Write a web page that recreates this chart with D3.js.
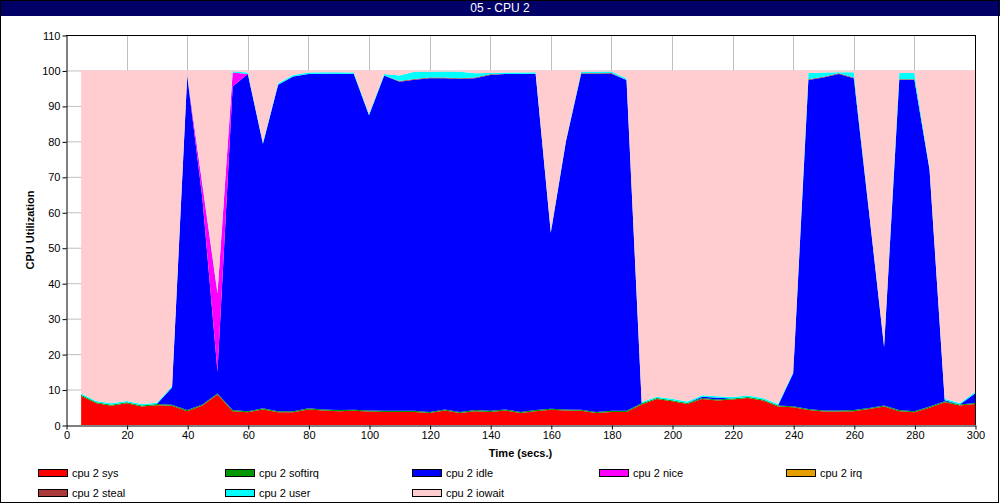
<!DOCTYPE html>
<html><head><meta charset="utf-8">
<script src="https://cdn.jsdelivr.net/npm/d3@7"></script>
<style>
html,body{margin:0;padding:0;background:#fff;}
svg{display:block;font-family:"Liberation Sans",Arial,sans-serif;}
</style></head>
<body>
<svg id="chart" width="1000" height="504"></svg>
<script>
const times   = [5,10,15,20,25,30,35,40,45,50,55,60,65,70,75,80,85,90,95,100,105,110,115,120,125,130,135,140,145,150,155,160,165,170,175,180,185,190,195,200,205,210,215,220,225,230,235,240,245,250,255,260,265,270,275,280,285,290,295,300];
const sys     = [8.2,6.1,5.4,6.1,5.2,5.6,5.4,3.9,5.5,8.6,3.9,3.6,4.4,3.6,3.6,4.4,4.1,3.9,4.0,3.8,3.7,3.7,3.7,3.4,4.1,3.4,3.9,3.7,4.1,3.4,3.9,4.3,4.1,4.0,3.4,3.7,3.7,5.8,7.3,6.7,5.9,7.3,6.9,7.2,7.6,6.9,5.2,5.0,4.2,3.8,3.8,3.9,4.5,5.2,3.9,3.6,4.9,6.4,5.5,5.9];
const softirq = [0.3,0.3,0.3,0.3,0.3,0.3,0.3,0.3,0.3,0.3,0.3,0.3,0.3,0.3,0.3,0.3,0.3,0.3,0.3,0.3,0.3,0.3,0.3,0.3,0.3,0.3,0.3,0.3,0.3,0.3,0.3,0.3,0.3,0.3,0.3,0.3,0.3,0.3,0.3,0.3,0.3,0.3,0.3,0.3,0.3,0.3,0.3,0.3,0.3,0.3,0.3,0.3,0.3,0.3,0.3,0.3,0.3,0.3,0.3,0.3];
const idle    = [0,0,0,0,0,0,4.9,94.3,58.2,6.1,91.3,95.1,74.6,92.1,94.4,94.3,94.7,94.9,94.7,83.3,94.6,92.8,93.4,94.1,93.4,93.9,93.6,94.7,94.6,95.3,94.9,49.6,75.6,94.7,95.3,95.1,93.3,0,0,0,0,0.4,0.5,0,0,0,0,9.3,92.8,93.9,94.9,93.6,55.5,16.5,93.1,93.4,66.8,0.3,0,2.7];
const nice    = [0,0,0,0,0,0,0,0,3.8,22.1,3.9,0,0,0,0,0,0,0,0,0,0,0,0,0,0,0,0,0,0,0,0,0,0,0,0,0,0,0,0,0,0,0,0,0,0,0,0,0,0,0,0,0,0,0,0,0,0,0,0,0];
const irq     = [0,0,0,0,0,0,0,0,0,0,0,0,0,0,0,0,0,0,0,0,0,0,0,0,0,0,0,0,0,0,0,0,0,0,0,0,0,0,0,0,0,0,0,0,0,0,0,0,0,0,0,0,0,0,0,0,0,0,0,0];
const steal   = [0,0,0,0,0,0,0,0,0,0,0,0,0,0,0,0,0,0,0,0,0,0.2,0.2,0.2,0.2,0.2,0.2,0.2,0,0,0,0,0,0.2,0.2,0.2,0,0,0,0,0,0,0,0,0,0,0,0,0.2,0.2,0.2,0.2,0,0,0.2,0.2,0,0,0,0];
const user    = [0.4,0.4,0.4,0.4,0.4,0.4,0.4,0.4,0.4,0.4,0.4,0.4,0.4,0.4,0.4,0.4,0.4,0.4,0.4,0.4,0.4,1.6,2.0,1.6,1.7,1.8,1.2,0.4,0.4,0.4,0.4,0.4,0.4,0.4,0.4,0.4,0.4,0.4,0.4,0.4,0.4,0.4,0.4,0.4,0.4,0.4,0.4,0.4,1.8,1.2,0.3,1.5,0.4,0.4,1.8,1.8,0.4,0.4,0.4,0.4];
const iowait  = [91.1,93.2,93.9,93.2,94.1,93.7,89.0,1.1,31.8,62.5,0.2,0.6,20.3,3.6,1.3,0.6,0.5,0.5,0.6,12.2,1.0,1.4,0.4,0.4,0.3,0.4,0.8,0.7,0.6,0.6,0.5,45.4,19.6,0.4,0.4,0.3,2.3,93.5,92.0,92.6,93.4,91.6,91.9,92.1,91.7,92.4,94.1,85.0,0.7,0.6,0.3,0.5,39.3,77.6,0.7,0.7,27.6,92.6,93.8,90.7];

const seriesNames = ["cpu 2 sys","cpu 2 softirq","cpu 2 idle","cpu 2 nice","cpu 2 irq","cpu 2 steal","cpu 2 user","cpu 2 iowait"];
const seriesColors = ["#ff0000","#009900","#0000ff","#ff00ff","#e69f00","#aa3a3a","#00ffff","#ffccd0"];
const xTicks = [0,20,40,60,80,100,120,140,160,180,200,220,240,260,280,300];
const yTicks = [0,10,20,30,40,50,60,70,80,90,100,110];
const titleText = "05 - CPU 2";
const xTitle = "Time (secs.)";
const yTitle = "CPU Utilization";

const seriesData = [sys, softirq, idle, nice, irq, steal, user, iowait];
const keys = seriesNames;
const rows = times.map((t, i) => {
  const r = {t};
  keys.forEach((k, j) => r[k] = seriesData[j][i]);
  return r;
});

const svg = d3.select("#chart");
const W = 1000, H = 504;
const L = 66, R = 975, T = 35, B = 425;

const x = d3.scaleLinear().domain([0, 300]).range([L, R]);
const y = d3.scaleLinear().domain([0, 110]).range([B, T]);

svg.append("rect").attr("x",0).attr("y",0).attr("width",W).attr("height",H).attr("fill","#fff");

// title bar
svg.append("rect").attr("x",0).attr("y",0).attr("width",W).attr("height",16).attr("fill","#000066");
svg.append("text").attr("x",W/2).attr("y",12).attr("text-anchor","middle")
  .attr("fill","#fff").style("font-size","12px").text(titleText);

// grid
const grid = svg.append("g");
grid.selectAll("line.h").data(yTicks.filter(v => v > 0 && v < 110)).join("line")
  .attr("x1", L).attr("x2", R).attr("y1", d => y(d) + 0.5).attr("y2", d => y(d) + 0.5)
  .attr("stroke", "#c0c0c0").attr("stroke-width", 1);
grid.selectAll("line.v").data(xTicks.filter(v => v > 0 && v < 300)).join("line")
  .attr("y1", T).attr("y2", B).attr("x1", d => Math.round(x(d)) + 0.5).attr("x2", d => Math.round(x(d)) + 0.5)
  .attr("stroke", "#c0c0c0").attr("stroke-width", 1);

// stacked areas
const stacked = d3.stack().keys(keys)(rows);
const area = d3.area()
  .x(d => x(d.data.t))
  .y0(d => y(d[0]))
  .y1(d => y(d[1]));
svg.append("g").selectAll("path").data(stacked).join("path")
  .attr("d", area)
  .attr("fill", (d, i) => seriesColors[i]);

// frame top & right
svg.append("line").attr("x1", L).attr("x2", R + 0.5).attr("y1", T + 0.5).attr("y2", T + 0.5).attr("stroke", "#000");
svg.append("line").attr("x1", R + 0.5).attr("x2", R + 0.5).attr("y1", T).attr("y2", B).attr("stroke", "#000");

// axes
const xAxis = d3.axisBottom(x).tickValues(xTicks).tickSize(4).tickSizeOuter(0).tickPadding(2);
const yAxis = d3.axisLeft(y).tickValues(yTicks).tickSize(4).tickSizeOuter(0).tickPadding(2);
const gx = svg.append("g").attr("transform", `translate(0.5,${B + 0.5})`).call(xAxis);
const gy = svg.append("g").attr("transform", `translate(${L + 0.5},0.5)`).call(yAxis);
[gx, gy].forEach(g => {
  g.selectAll("path,line").attr("stroke", "#000");
  g.selectAll("text").attr("fill", "#000").style("font-size", "11px").style("font-family", "'Liberation Sans',Arial,sans-serif");
});

// axis titles
svg.append("text").attr("x", (L + R) / 2).attr("y", 457).attr("text-anchor", "middle")
  .style("font-size", "11px").style("font-weight", "bold").text(xTitle);
svg.append("text").attr("transform", `translate(34,${(T + B) / 2}) rotate(-90)`).attr("text-anchor", "middle")
  .style("font-size", "11px").style("font-weight", "bold").text(yTitle);

// legend
const legendPos = seriesNames.map((n, i) => ({n, i, col: i < 5 ? i : i - 5, row: i < 5 ? 0 : 1}));
const lg = svg.append("g").selectAll("g").data(legendPos).join("g")
  .attr("transform", d => `translate(${38 + d.col * 187},${469 + d.row * 20})`);
lg.append("rect").attr("x", 0.5).attr("y", 0.5).attr("width", 29).attr("height", 7)
  .attr("fill", d => seriesColors[d.i]).attr("stroke", "#000");
lg.append("text").attr("x", 34).attr("y", 8).style("font-size", "11px").text(d => d.n);

// outer border
svg.append("rect").attr("x", 0.5).attr("y", 0.5).attr("width", 998).attr("height", 502)
  .attr("fill", "none").attr("stroke", "#000");
</script>
</body></html>
